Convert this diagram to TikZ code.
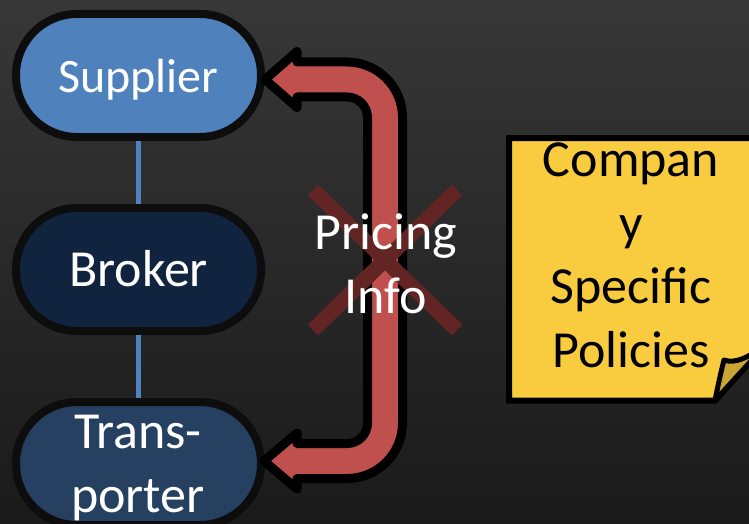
\documentclass[tikz,border=0pt]{standalone}
\usepackage{fontspec}
\setmainfont{Carlito}
\newcommand\boxfont{\fontsize{52}{63.5}\selectfont}
\newcommand\smallboxfont{\fontsize{48}{63.5}\selectfont}
\definecolor{bgtop}{HTML}{373737}
\definecolor{bgbot}{HTML}{1A1A1A}
\definecolor{pilledge}{HTML}{0D0D0D}
\definecolor{supfill}{HTML}{4F81BD}
\definecolor{brofill}{HTML}{10243F}
\definecolor{trafill}{HTML}{254061}
\definecolor{linkblue}{HTML}{4F81BD}
\definecolor{arrowred}{HTML}{C0504D}
\definecolor{crossred}{HTML}{632523}
\definecolor{noteyellow}{HTML}{F8CC3E}
\definecolor{notefold}{HTML}{C9A534}
\begin{document}
\begin{tikzpicture}[x=1pt,y=-1pt,
  pill/.style={draw=pilledge, line width=8pt, rounded corners=61pt,
    minimum width=245pt, minimum height=123pt, inner sep=0pt,
    text=white, font=\boxfont, text height=34pt, text depth=0pt},
  link/.style={draw=linkblue, line width=4.5pt},
  uarrow/.style={fill=arrowred, draw=black, line width=9pt, line join=round},
  crossbar/.style={draw=crossred, line width=15pt},
  label/.style={text=white, font=\boxfont, align=center, inner sep=0pt},
  notetext/.style={text=black, font=\boxfont, align=center, inner sep=0pt},
  notebody/.style={fill=noteyellow, draw=black, line width=6pt, line join=miter},
  noteflap/.style={fill=notefold, draw=black, line width=5pt, line join=round}]

\useasboundingbox (0,0) rectangle (749,524);
\begin{scope}
\clip (0,0) rectangle (749,524);
% backdrop
\shade[top color=bgtop, bottom color=bgbot] (0,0) rectangle (749,524);

% the three parties
\node[pill, fill=supfill, font=\smallboxfont] (sup) at (138.5,75.5) {Supplier};
\node[pill, fill=brofill] (bro) at (138.5,269.5) {Broker};
\node[pill, fill=trafill] (tra) at (138.5,463.5) {};
% last line sits on the base anchor
\node[label, anchor=base] (tratext) at (138,512) {Trans-\\porter};

% links between the parties
\path[link] (sup.south) -- (bro.north);
\path[link] (bro.south) -- (tra.north);

% two-headed U arrow between supplier and transporter
\coordinate (tiptop) at (265,79.5);
\coordinate (tipbot) at (264,461);
\draw[uarrow] (tiptop) -- (297,51.5) -- (297,62) -- (347,62)
  arc[start angle=270, end angle=360, radius=55.5] -- (402.5,423)
  arc[start angle=0, end angle=90, radius=55.5] -- (297,478.5)
  -- (297,489) -- (tipbot) -- (297,433) -- (297,443.5) -- (347,443.5)
  arc[start angle=90, end angle=0, radius=20.5] -- (367.5,117.5)
  arc[start angle=0, end angle=-90, radius=20.5] -- (297,97)
  -- (297,107.5) -- cycle;

% crossed out
\coordinate (xa) at (313,190);
\coordinate (xb) at (457,330);
\coordinate (xc) at (457,190);
\coordinate (xd) at (313,330);
\draw[crossbar] (xa) -- (xb);
\draw[crossbar] (xc) -- (xd);
\node[label, anchor=base] (pricing) at (386,313) {Pricing\\Info};

% sticky note with a curled corner
\draw[notebody] (509,138) -- (770,138) -- (770,340) -- (715,400.5)
  -- (509,400.5) -- cycle;
\draw[noteflap] (715,400.5) .. controls (718,385) and (721,372) .. (724,360)
  .. controls (735,364) and (750,358) .. (770,340) -- cycle;
\node[notetext, anchor=base] (policies) at (631,367)
  {Compan\\y\\Specific\\Policies};
\end{scope}
\end{tikzpicture}
\end{document}
